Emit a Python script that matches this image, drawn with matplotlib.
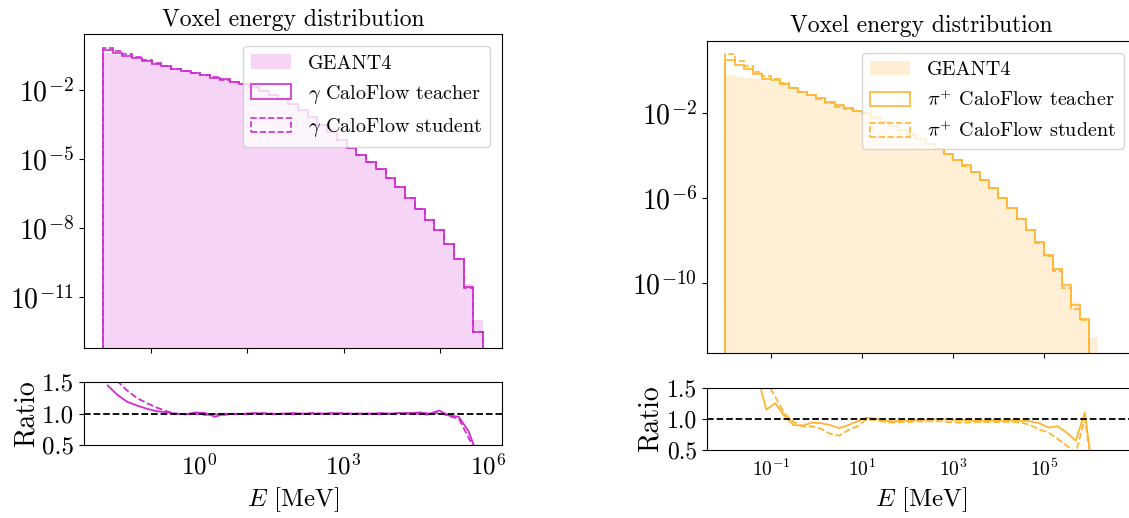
import matplotlib

matplotlib.use("Agg")
import matplotlib.pyplot as plt
import numpy as np
from matplotlib.ticker import NullLocator

plt.rcParams["font.family"] = "serif"
plt.rcParams["font.serif"] = ["cmr10", "DejaVu Serif"]
plt.rcParams["mathtext.fontset"] = "cm"
plt.rcParams["axes.formatter.use_mathtext"] = True
plt.rcParams["axes.unicode_minus"] = False

# --- gamma sample: log10(E/MeV) bin edges, GEANT4 log10 density, model/GEANT4 ratios
gamma_log_edges = np.linspace(-2.0, 5.9, 40)
gamma_g4_log10 = [
    -0.40, -0.48, -0.57, -0.66, -0.76, -0.86, -0.96, -1.06, -1.15, -1.25,
    -1.34, -1.44, -1.53, -1.63, -1.73, -1.86, -2.02, -2.20, -2.39, -2.59,
    -2.87, -3.17, -3.50, -3.83, -4.18, -4.51, -4.82, -5.11, -5.44, -5.83,
    -6.23, -6.70, -7.15, -7.63, -8.10, -8.65, -9.30, -10.40, -12.00,
]
gamma_teacher_ratio = [
    1.45, 1.30, 1.19, 1.13, 1.08, 1.04, 1.02, 1.00, 0.99, 1.02,
    1.01, 0.95, 1.00, 0.99, 1.00, 1.01, 1.00, 0.99, 1.00, 1.01,
    1.00, 1.00, 1.00, 1.01, 1.00, 1.00, 1.00, 1.00, 1.01, 1.00,
    1.01, 1.01, 1.02, 1.00, 1.05, 0.97, 0.95, 0.72, 0.30,
]
gamma_student_ratio = [
    1.80, 1.52, 1.37, 1.25, 1.17, 1.10, 1.04, 1.00, 0.99, 1.00,
    0.98, 0.99, 0.98, 1.00, 0.99, 1.00, 1.01, 1.00, 1.00, 0.99,
    1.00, 1.01, 1.00, 1.00, 1.01, 1.00, 1.00, 1.00, 0.99, 1.00,
    1.01, 1.00, 1.00, 0.98, 1.02, 0.96, 0.92, 0.62, 0.30,
]

# --- pi+ sample
pion_log_edges = np.linspace(-2.0, 6.2, 42)
pion_g4_log10 = [
    -0.25, -0.31, -0.36, -0.43, -0.50, -0.57, -0.66, -0.80, -0.96, -1.12,
    -1.28, -1.43, -1.58, -1.73, -1.88, -2.04, -2.22, -2.41, -2.60, -2.80,
    -3.01, -3.23, -3.45, -3.68, -3.93, -4.19, -4.46, -4.75, -5.12, -5.52,
    -5.98, -6.45, -6.95, -7.47, -8.01, -8.60, -9.27, -9.98, -10.85, -11.70,
    -12.50,
]
pion_teacher_ratio = [
    5.0, 3.6, 2.6, 1.7, 1.15, 1.25, 1.04, 0.90, 0.89, 0.94,
    0.93, 0.90, 0.85, 0.90, 0.96, 1.02, 1.00, 0.97, 0.96, 0.97,
    0.98, 0.98, 0.99, 0.99, 0.99, 0.98, 0.98, 0.97, 0.97, 0.98,
    0.97, 0.98, 0.97, 0.96, 0.93, 0.86, 0.88, 0.78, 0.65, 1.10,
    0.0,
]
pion_student_ratio = [
    10.0, 5.5, 3.5, 2.2, 1.6, 1.35, 1.08, 0.95, 0.88, 0.88,
    0.84, 0.76, 0.73, 0.82, 0.88, 0.99, 0.98, 0.95, 0.94, 0.95,
    0.95, 0.96, 0.96, 0.96, 0.95, 0.94, 0.94, 0.95, 0.95, 0.95,
    0.95, 0.95, 0.94, 0.90, 0.83, 0.78, 0.68, 0.57, 0.45, 1.00,
    0.0,
]


def draw_panel(ax, rax, log_edges, g4_log10, r_teacher, r_student, color,
               particle, xlim, ylim, yticks, rticks, rtick_size, ry_size):
    edges = 10.0 ** log_edges
    centers = 10.0 ** (0.5 * (log_edges[1:] + log_edges[:-1]))
    g4 = 10.0 ** np.array(g4_log10)
    teacher = g4 * np.array(r_teacher)
    student = g4 * np.array(r_student)

    ax.hist(centers, bins=edges, weights=g4, histtype="stepfilled",
            color=color, alpha=0.2, label="GEANT4")
    ax.hist(centers, bins=edges, weights=teacher, histtype="step",
            color=color, lw=1.2, label=f"{particle} CaloFlow teacher")
    ax.hist(centers, bins=edges, weights=student, histtype="step",
            color=color, lw=1.2, ls="--", label=f"{particle} CaloFlow student")
    ax.set_xscale("log")
    ax.set_yscale("log")
    ax.set_xlim(*xlim)
    ax.set_ylim(*ylim)
    ax.set_xticks(10.0 ** np.array([-1, 1, 3, 5]))
    ax.set_xticklabels([])
    ax.set_yticks(yticks)
    ax.xaxis.set_minor_locator(NullLocator())
    ax.yaxis.set_minor_locator(NullLocator())
    ax.tick_params(labelsize=20)
    ax.set_title("Voxel energy distribution", fontsize=17)
    ax.legend(loc="upper right", fontsize=14.5, borderaxespad=0.6)

    rax.plot(centers, r_teacher, color=color, lw=1.3)
    rax.plot(centers, r_student, color=color, lw=1.3, ls="--")
    rax.axhline(1.0, color="k", ls="--", lw=1.3)
    rax.set_xscale("log")
    rax.set_xlim(*xlim)
    rax.set_ylim(0.5, 1.5)
    rax.set_xticks(rticks)
    rax.set_yticks([0.5, 1.0, 1.5])
    rax.set_yticklabels(["0.5", "1.0", "1.5"])
    rax.xaxis.set_minor_locator(NullLocator())
    rax.tick_params(axis="x", labelsize=rtick_size, length=0, pad=6)
    rax.tick_params(axis="y", labelsize=ry_size)
    rax.set_xlabel(r"$E$ [MeV]", fontsize=18)
    rax.set_ylabel("Ratio", fontsize=20, labelpad=2)


fig = plt.figure(figsize=(11.29, 5.18), dpi=100)
ax1 = fig.add_axes([0.0744, 0.3282, 0.3702, 0.6056])
rax1 = fig.add_axes([0.0744, 0.1409, 0.3702, 0.1210])
ax2 = fig.add_axes([0.6260, 0.3191, 0.3800, 0.6023])
rax2 = fig.add_axes([0.6260, 0.1313, 0.3800, 0.1203])

draw_panel(ax1, rax1, gamma_log_edges, gamma_g4_log10, gamma_teacher_ratio,
           gamma_student_ratio, "#d02cd0", r"$\gamma$",
           (10 ** -2.39, 10 ** 6.29), (10 ** -13.2, 10 ** 0.43),
           10.0 ** np.array([-2, -5, -8, -11]), 10.0 ** np.array([0, 3, 6]),
           18, 18)
draw_panel(ax2, rax2, pion_log_edges, pion_g4_log10, pion_teacher_ratio,
           pion_student_ratio, "#ffb52e", r"$\pi^{+}$",
           (10 ** -2.41, 10 ** 7.02), (10 ** -13.25, 10 ** 1.375),
           10.0 ** np.array([-2, -6, -10]), 10.0 ** np.array([-1, 1, 3, 5]),
           14, 17)

fig.savefig("out.png", dpi=100)
